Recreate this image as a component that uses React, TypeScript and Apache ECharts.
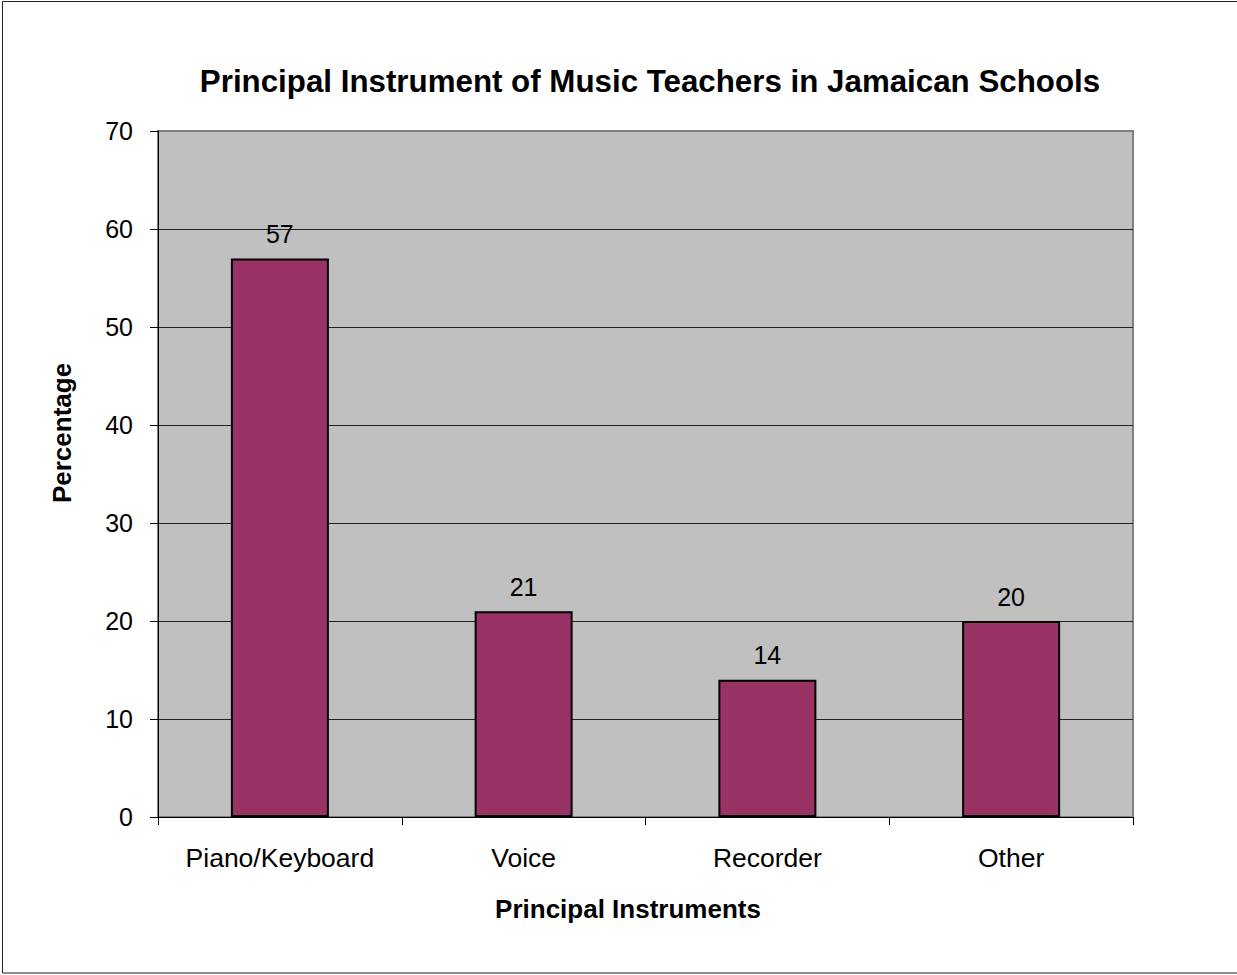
import React, { useEffect, useRef } from "react";
import * as echarts from "echarts";

const categories: string[] = ["Piano/Keyboard", "Voice", "Recorder", "Other"];
const percentages: number[] = [57, 21, 14, 20];
const chartTitle = "Principal Instrument of Music Teachers in Jamaican Schools";
const xAxisTitle = "Principal Instruments";
const yAxisTitle = "Percentage";

const FONT = "'Liberation Sans', Arial, Helvetica, sans-serif";

export default function App() {
  const ref = useRef<HTMLDivElement>(null);
  useEffect(() => {
    if (!ref.current) return;
    const chart = echarts.init(ref.current, null, { renderer: "svg" });
    chart.setOption({
      animation: false,
      backgroundColor: "#ffffff",
      textStyle: { fontFamily: FONT },
      grid: {
        left: 158,
        right: 104,
        top: 131,
        bottom: 158,
        show: true,
        backgroundColor: "#C0C0C0",
        borderColor: "#808080",
        borderWidth: 2,
      },
      graphic: [
        {
          type: "rect",
          shape: { x: 2.5, y: 1.5, width: 1240, height: 971.5 },
          style: { fill: "none", stroke: "#222", lineWidth: 1 },
          silent: true,
        },
        {
          type: "text",
          x: 650,
          y: 81,
          style: {
            text: chartTitle,
            font: `bold 31.3px ${FONT}`,
            fill: "#000",
            textAlign: "center",
            textVerticalAlign: "middle",
          },
        },
        {
          type: "text",
          x: 628,
          y: 909,
          style: {
            text: xAxisTitle,
            font: `bold 26px ${FONT}`,
            fill: "#000",
            textAlign: "center",
            textVerticalAlign: "middle",
          },
        },
        {
          type: "text",
          x: 62,
          y: 433,
          rotation: Math.PI / 2,
          style: {
            text: yAxisTitle,
            font: `bold 26px ${FONT}`,
            fill: "#000",
            textAlign: "center",
            textVerticalAlign: "middle",
          },
        },
      ],
      xAxis: {
        type: "category",
        data: categories,
        axisLine: { show: true, lineStyle: { color: "#000", width: 1 } },
        axisTick: { show: true, length: 8, interval: 0, lineStyle: { color: "#000" } },
        axisLabel: {
          color: "#000",
          fontSize: 26.5,
          fontFamily: FONT,
          margin: 27,
          interval: 0,
          hideOverlap: false,
        },
        splitLine: { show: false },
      },
      yAxis: {
        type: "value",
        min: 0,
        max: 70,
        interval: 10,
        axisLine: { show: true, lineStyle: { color: "#000", width: 1 } },
        axisTick: { show: true, length: 8, lineStyle: { color: "#000" } },
        axisLabel: { color: "#000", fontSize: 25, fontFamily: FONT, margin: 25 },
        splitLine: {
          show: true,
          lineStyle: {
            color: ["#222", "#222", "#222", "#222", "#222", "#222", "#222", "#808080"],
            width: 1,
          },
        },
      },
      series: [
        {
          type: "bar",
          data: percentages,
          barWidth: 98,
          itemStyle: { color: "#993366", borderColor: "#000", borderWidth: 2 },
          label: {
            show: true,
            position: "top",
            distance: 12,
            color: "#000",
            fontSize: 25,
            fontFamily: FONT,
          },
        },
      ],
    });
    return () => chart.dispose();
  }, []);
  return (
    <div
      ref={ref}
      style={{ position: "absolute", left: 0, top: 0, width: 1237, height: 975 }}
    />
  );
}
